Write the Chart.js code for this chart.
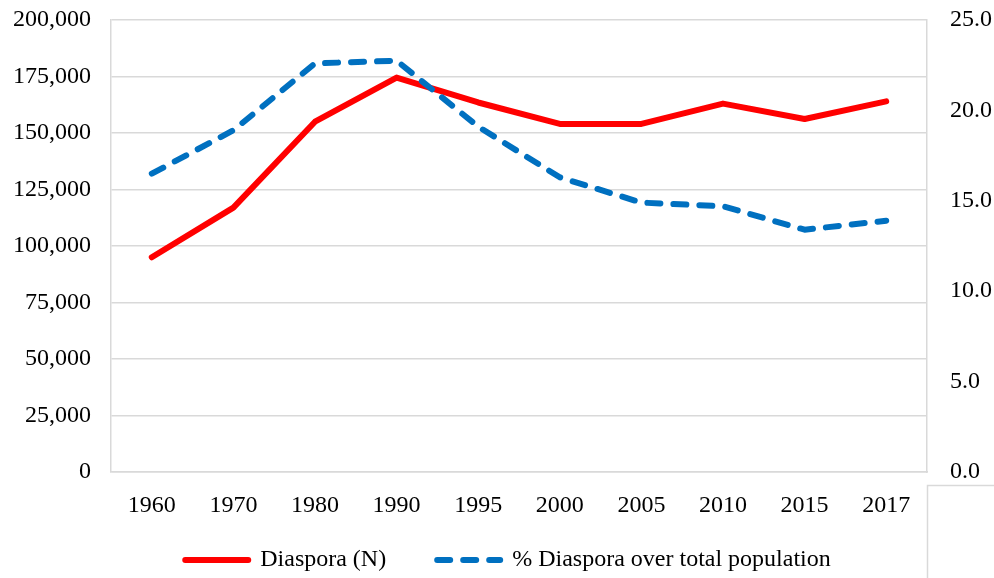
<!DOCTYPE html>
<html>
<head>
<meta charset="utf-8">
<title>Diaspora</title>
<script src="https://cdn.jsdelivr.net/npm/chart.js@4/dist/chart.umd.min.js"></script>
<style>
  html, body { margin: 0; padding: 0; background: #fff; }
  #wrap { width: 994px; height: 578px; }
</style>
</head>
<body>
<div id="wrap"><canvas id="chart" width="994" height="578"></canvas></div>
<script>
// Data
const years = ['1960', '1970', '1980', '1990', '1995', '2000', '2005', '2010', '2015', '2017'];
const diaspora = [95000, 117000, 155000, 174500, 163500, 154000, 154000, 163000, 156200, 164000];
const diasporaPct = [16.5, 18.9, 22.6, 22.75, 19.1, 16.3, 14.9, 14.7, 13.4, 13.9];

const leftTicks = [0, 25000, 50000, 75000, 100000, 125000, 150000, 175000, 200000];
const rightTicks = [0, 5, 10, 15, 20, 25];

const FONT = { family: '"Liberation Serif", "Times New Roman", serif', size: 24 };
const GRID = '#d9d9d9';

// small grey frame below the right axis, as in the original
const cornerFrame = {
    id: 'cornerFrame',
    afterDraw(chart) {
        const { ctx, chartArea, width, height } = chart;
        const x = chartArea.right + 0.5, y = chartArea.bottom + 13.5;
        ctx.save();
        ctx.strokeStyle = GRID;
        ctx.lineWidth = 1.5;
        ctx.beginPath();
        ctx.moveTo(width, y);
        ctx.lineTo(x, y);
        ctx.lineTo(x, height);
        ctx.stroke();
        ctx.restore();
    }
};

// legend sits a bit right of centre and overlaps the axis box in the original
const legendShift = {
    id: 'legendShift',
    afterLayout(chart) {
        const lg = chart.legend;
        lg.left += 11; lg.right += 11;
        lg.top -= 25;
    }
};

// vertical axes: no extra space above/below, the plot box is fixed by layout padding
const noVPad = s => { s.paddingTop = 0; s.paddingBottom = 0; };

new Chart(document.getElementById('chart'), {
    type: 'line',
    data: {
        labels: years,
        datasets: [
            {
                label: 'Diaspora (N)',
                data: diaspora,
                yAxisID: 'y',
                borderColor: '#ff0000',
                backgroundColor: '#ff0000',
                borderWidth: 6,
                borderCapStyle: 'round',
                borderJoinStyle: 'round',
                pointRadius: 0,
                tension: 0,
                order: 1
            },
            {
                label: '% Diaspora over total population',
                data: diasporaPct,
                yAxisID: 'y1',
                borderColor: '#0070c0',
                backgroundColor: '#0070c0',
                borderWidth: 6,
                borderDash: [13, 13],
                borderCapStyle: 'round',
                borderJoinStyle: 'round',
                pointRadius: 0,
                tension: 0,
                order: 0
            }
        ]
    },
    options: {
        responsive: false,
        animation: false,
        layout: { padding: { top: 20, left: 0, right: 0, bottom: 0 } },
        plugins: {
            legend: {
                position: 'bottom',
                maxHeight: 56,
                labels: {
                    usePointStyle: true,
                    pointStyle: 'line',
                    pointStyleWidth: 63,
                    padding: 51,
                    color: '#000',
                    font: FONT,
                    sort: (a, b) => a.datasetIndex - b.datasetIndex,
                    generateLabels: chart => {
                        const items = Chart.defaults.plugins.legend.labels.generateLabels(chart);
                        items.forEach(it => {
                            const ds = chart.data.datasets[it.datasetIndex];
                            it.lineDash = ds.borderDash || [];
                            it.lineCap = 'round';
                            it.lineWidth = ds.borderWidth;
                            it.strokeStyle = ds.borderColor;
                        });
                        return items;
                    }
                }
            },
            tooltip: { enabled: false }
        },
        scales: {
            x: {
                offset: true,
                grid: { display: false },
                border: { display: true, color: GRID, width: 1.5 },
                ticks: { color: '#000', font: FONT, padding: 11, maxRotation: 0 },
                afterFit: s => { s.height = 50; }
            },
            y: {
                position: 'left',
                min: 0,
                max: 200000,
                afterBuildTicks: s => { s.ticks = leftTicks.map(v => ({ value: v })); },
                grid: { color: GRID, lineWidth: 1.5, drawTicks: false },
                border: { display: true, color: GRID, width: 1.5 },
                ticks: {
                    color: '#000', font: FONT, padding: 20,
                    callback: v => v.toLocaleString('en-US')
                },
                afterFit: s => { s.width = 111; noVPad(s); }
            },
            y1: {
                position: 'right',
                min: 0,
                max: 25,
                afterBuildTicks: s => { s.ticks = rightTicks.map(v => ({ value: v })); },
                grid: { drawOnChartArea: false, drawTicks: false },
                border: { display: true, color: GRID, width: 1.5 },
                ticks: {
                    color: '#000', font: FONT, padding: 23,
                    callback: v => v.toFixed(1)
                },
                afterFit: s => { s.width = 67; noVPad(s); }
            }
        }
    },
    plugins: [cornerFrame, legendShift]
});
</script>
</body>
</html>
